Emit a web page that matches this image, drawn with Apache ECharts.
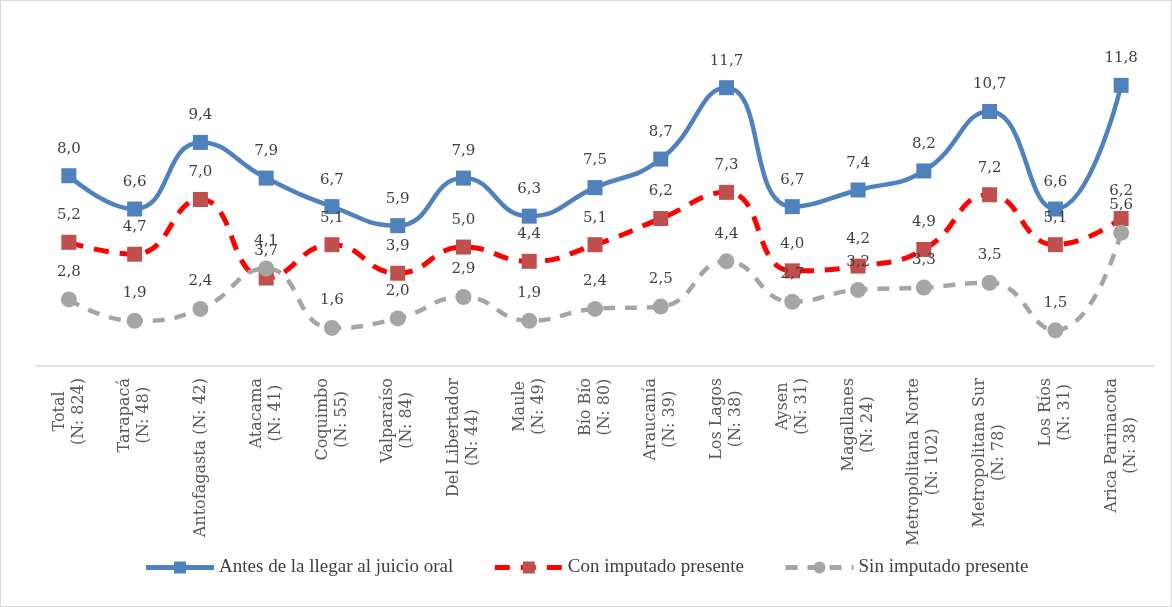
<!DOCTYPE html>
<html>
<head>
<meta charset="utf-8">
<script src="https://cdn.jsdelivr.net/npm/echarts@6/dist/echarts.min.js"></script>
<style>
  html, body { margin: 0; padding: 0; background: #fff; }
  #chart { width: 1172px; height: 607px; box-sizing: border-box; border: 1px solid #d9d9d9; }
</style>
</head>
<body>
<div id="chart"></div>
<script>
var regions = ['Total\n(N: 824)', 'Tarapacá\n(N: 48)', 'Antofagasta (N: 42)', 'Atacama\n(N: 41)',
    'Coquimbo\n(N: 55)', 'Valparaíso\n(N: 84)', 'Del Libertador\n(N: 44)', 'Maule\n(N: 49)',
    'Bío Bío\n(N: 80)', 'Araucanía\n(N: 39)', 'Los Lagos\n(N: 38)', 'Aysen\n(N: 31)',
    'Magallanes\n(N: 24)', 'Metropolitana Norte\n(N: 102)', 'Metropolitana Sur\n(N: 78)',
    'Los Ríos\n(N: 31)', 'Arica Parinacota\n(N: 38)'];
var antes = [8.0, 6.6, 9.4, 7.9, 6.7, 5.9, 7.9, 6.3, 7.5, 8.7, 11.7, 6.7, 7.4, 8.2, 10.7, 6.6, 11.8];
var conImputado = [5.2, 4.7, 7.0, 3.7, 5.1, 3.9, 5.0, 4.4, 5.1, 6.2, 7.3, 4.0, 4.2, 4.9, 7.2, 5.1, 6.2];
var sinImputado = [2.8, 1.9, 2.4, 4.1, 1.6, 2.0, 2.9, 1.9, 2.4, 2.5, 4.4, 2.7, 3.2, 3.3, 3.5, 1.5, 5.6];

var chart = echarts.init(document.getElementById('chart'));

var fmt = function (p) {
    return p.value.toFixed(1).replace('.', ',');
};
var dataLabel = {
    show: true,
    position: 'top',
    distance: 12,
    color: '#404040',
    fontFamily: 'DejaVu Serif',
    fontSize: 15,
    formatter: fmt
};

chart.setOption({
    animation: false,
    backgroundColor: '#fff',
    grid: { left: 35, right: 17, top: 32, bottom: 240 },
    legend: {
        top: 552,
        left: 'center',
        itemGap: 39,
        itemWidth: 68,
        itemHeight: 15,
        lineStyle: { width: 5 },
        textStyle: { color: '#404040', fontFamily: 'Liberation Serif', fontSize: 19 },
        data: ['Antes de la llegar al juicio oral', 'Con imputado presente', 'Sin imputado presente']
    },
    xAxis: {
        type: 'category',
        data: regions,
        axisLine: { lineStyle: { color: '#d9d9d9', width: 1.5 } },
        axisTick: { show: false },
        axisLabel: {
            rotate: 90,
            interval: 0,
            margin: 12,
            color: '#595959',
            fontFamily: 'DejaVu Serif',
            fontSize: 16,
            formatter: function (v) {
                return v.split('\n').map(function (s) { return '{a|' + s + '}'; }).join('\n');
            },
            rich: { a: { align: 'center', fontFamily: 'DejaVu Serif', fontSize: 16, color: '#595959', lineHeight: 19 } }
        }
    },
    yAxis: {
        type: 'value',
        min: 0,
        max: 14,
        show: false,
        splitLine: { show: false }
    },
    series: [
        {
            name: 'Antes de la llegar al juicio oral',
            type: 'line',
            data: antes,
            smooth: 0.5,
            symbol: 'rect',
            symbolSize: 15,
            itemStyle: { color: '#4f81bd' },
            lineStyle: { color: '#4f81bd', width: 4.5 },
            label: dataLabel
        },
        {
            name: 'Con imputado presente',
            type: 'line',
            data: conImputado,
            smooth: 0.5,
            symbol: 'rect',
            symbolSize: 15,
            itemStyle: { color: '#c0504d' },
            lineStyle: { color: '#ff0000', width: 5, type: [15, 11] },
            label: dataLabel
        },
        {
            name: 'Sin imputado presente',
            type: 'line',
            data: sinImputado,
            smooth: 0.5,
            symbol: 'circle',
            symbolSize: 16,
            itemStyle: { color: '#a5a5a5' },
            lineStyle: { color: '#a5a5a5', width: 4.5, type: [12, 10] },
            label: dataLabel
        }
    ]
});
</script>
</body>
</html>
